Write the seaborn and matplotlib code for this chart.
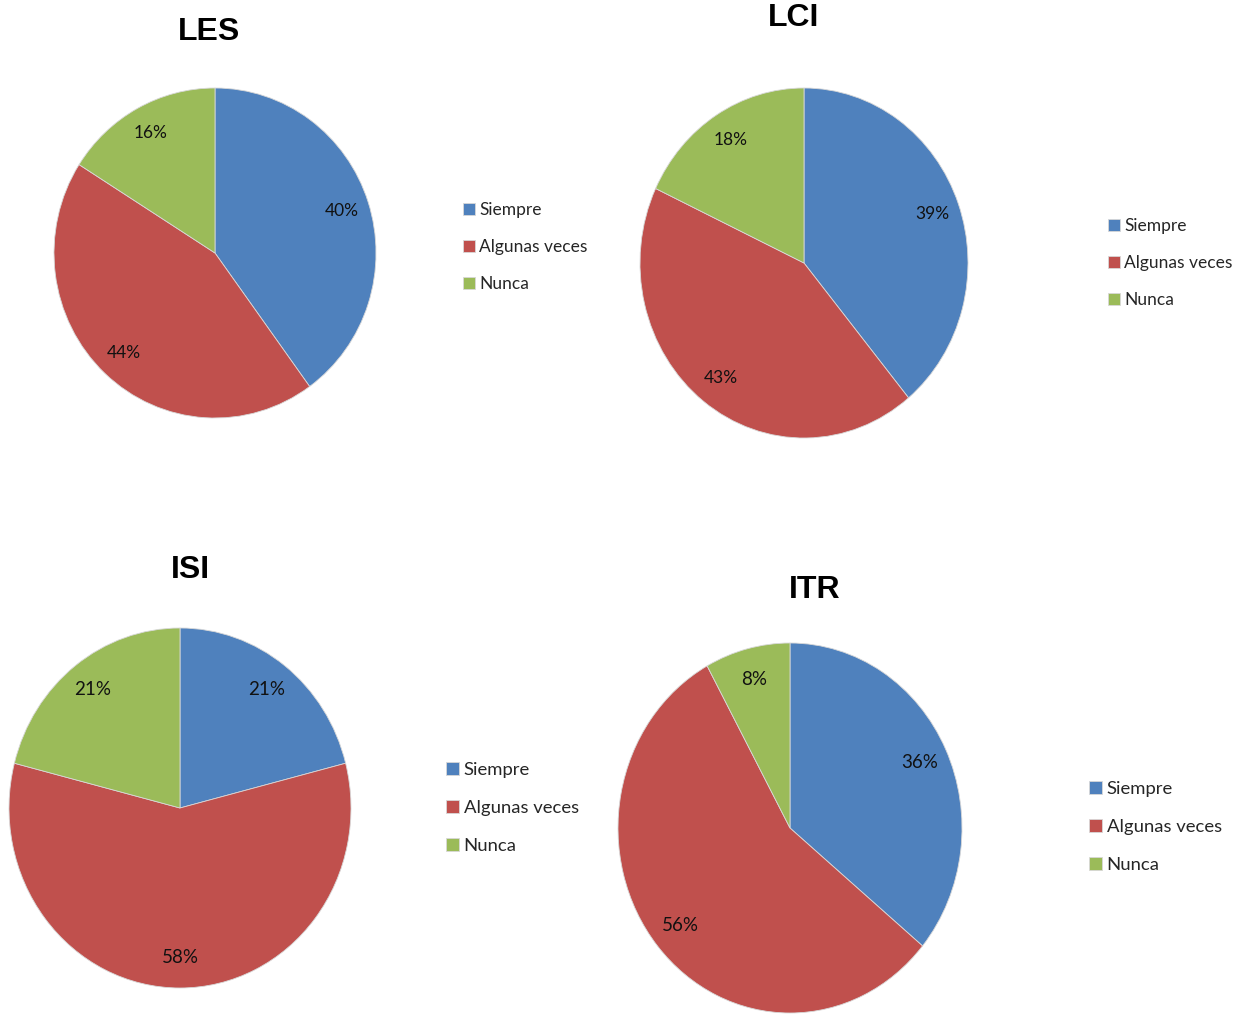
import matplotlib.pyplot as plt
import seaborn as sns

# datos (porcentajes)
categorias = ["Siempre", "Algunas veces", "Nunca"]
titulos = ["LES", "LCI", "ISI", "ITR"]
les = [40, 44, 16]
lci = [39, 43, 18]
isi = [21, 58, 21]
itr = [36, 56, 8]
valores = [les, lci, isi, itr]

colores = ["#4F81BD", "#C0504D", "#9BBB59"]

W, H = 1243, 1015

# posicion en pixeles: centro del pastel, radios, titulo, leyenda, tamano de letra
layout = [
    dict(c=(215, 253), r=(161, 165), t=(209, 32), leg=(463, 247), fs=12.5, lfs=12.5),
    dict(c=(804, 263), r=(164, 175), t=(794, 18), leg=(1108, 263), fs=12.5, lfs=12.5),
    dict(c=(180, 808), r=(171, 180), t=(190, 570), leg=(446, 808), fs=13.5, lfs=13.3),
    dict(c=(790, 828), r=(172, 185), t=(815, 590), leg=(1089, 827), fs=13.5, lfs=13.3),
]

sns.set_theme(style="white")
plt.rcParams["font.family"] = ["Lato", "DejaVu Sans"]
paleta = sns.color_palette(colores)

fig = plt.figure(figsize=(W / 100, H / 100), dpi=100)

for titulo, vals, lay in zip(titulos, valores, layout):
    cx, cy = lay["c"]
    rx, ry = lay["r"]
    ax = fig.add_axes([(cx - rx) / W, 1 - (cy + ry) / H, 2 * rx / W, 2 * ry / H])
    wedges, textos, autotextos = ax.pie(
        vals, colors=paleta, startangle=90, counterclock=False,
        autopct="%.0f%%", pctdistance=0.83,
        wedgeprops=dict(linewidth=0.6, edgecolor="#d8d8d8"),
        textprops=dict(fontsize=lay["fs"], color="#111111"),
    )
    ax.set_aspect("auto")
    ax.set_xlim(-1, 1)
    ax.set_ylim(-1, 1)
    ax.axis("off")

    tx, ty = lay["t"]
    fig.text(tx / W, 1 - ty / H, titulo, ha="center", va="center",
             fontsize=23, fontweight="bold", family="Liberation Sans",
             color="black")

    lx, ly = lay["leg"]
    fig.legend(wedges, categorias, loc="center left",
               bbox_to_anchor=(lx / W, 1 - ly / H), frameon=False,
               borderaxespad=0, borderpad=0, handlelength=0.7,
               handleheight=0.7, handletextpad=0.25,
               labelspacing=1.2, fontsize=lay["lfs"])

fig.savefig("out.png", dpi=100)
